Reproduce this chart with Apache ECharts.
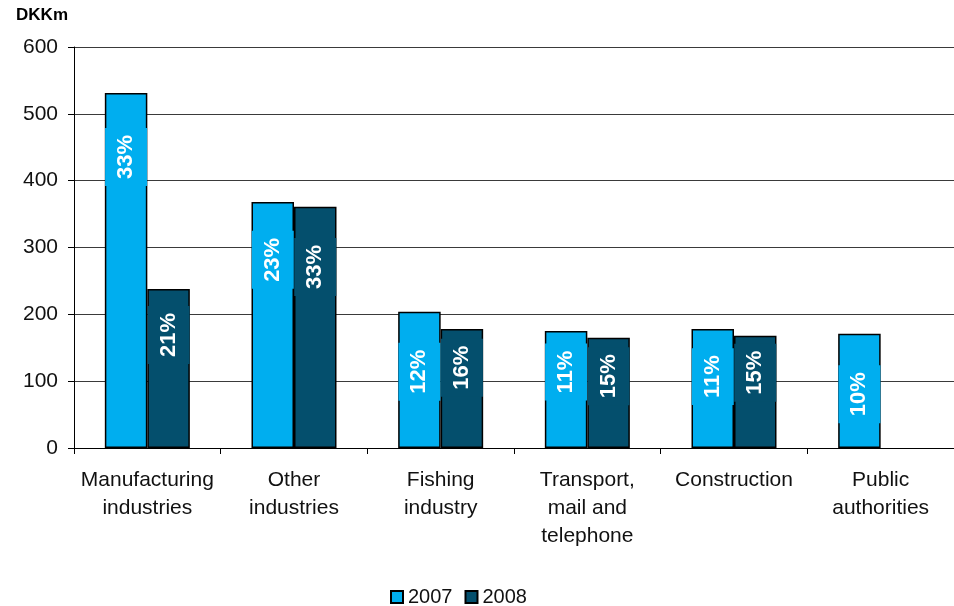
<!DOCTYPE html>
<html>
<head>
<meta charset="utf-8">
<script src="https://cdn.jsdelivr.net/npm/echarts@6/dist/echarts.min.js"></script>
<style>
  html, body { margin: 0; padding: 0; background: #fff; }
  #chart { width: 954px; height: 606px; }
</style>
</head>
<body>
<div id="chart"></div>
<script>
// Sector categories (x axis)
const categories = [
  'Manufacturing\nindustries',
  'Other\nindustries',
  'Fishing\nindustry',
  'Transport,\nmail and\ntelephone',
  'Construction',
  'Public\nauthorities'
];

// Amounts in DKKm
const values2007 = [531, 368, 204, 175, 178, 171];
const values2008 = [238, 361, 178, 165, 168, null];

// Share of each year's total, printed on the bars
const share2007 = ['33%', '23%', '12%', '11%', '11%', '10%'];
const share2008 = ['21%', '33%', '16%', '15%', '15%', null];

// Y axis tick labels
const yTicks = [0, 100, 200, 300, 400, 500, 600];

// Where the share label sits inside each bar (fraction from bar top)
const labelSpot2007 = [0.18, 0.235, 0.44, 0.35, 0.40, 0.53];
const labelSpot2008 = [0.29, 0.25, 0.325, 0.35, 0.33, 0.5];

const COLOR_2007 = '#00AEEF';
const COLOR_2008 = '#044F6D';
const FONT = 'Liberation Sans, Arial, sans-serif';

function buildData(values, shares, spots, color) {
  return values.map((v, i) => {
    if (v == null) return null;
    return {
      value: v,
      label: {
        show: shares[i] != null,
        formatter: shares[i] || '',
        position: ['50%', (spots[i] * 100).toFixed(1) + '%'],
        rotate: 90,
        align: 'center',
        verticalAlign: 'middle',
        color: '#fff',
        fontFamily: FONT,
        fontWeight: 'bold',
        fontSize: 22,
        lineHeight: 22,
        backgroundColor: color,
        padding: [10, 7]
      }
    };
  });
}

const chart = echarts.init(document.getElementById('chart'), null, { renderer: 'canvas' });

chart.setOption({
  animation: false,
  backgroundColor: '#fff',
  grid: { left: 74, right: -3, top: 47, bottom: 158, containLabel: false },
  legend: {
    data: ['2007', '2008'],
    left: 385,
    top: 582,
    icon: 'rect',
    itemWidth: 12,
    itemHeight: 12,
    itemGap: 12,
    textStyle: { fontFamily: FONT, fontSize: 20, color: '#111' }
  },
  xAxis: {
    type: 'category',
    data: categories,
    axisLine: { lineStyle: { color: '#000', width: 1 } },
    axisTick: { show: true, length: 6, lineStyle: { color: '#000' } },
    axisLabel: {
      fontFamily: FONT,
      fontSize: 21,
      lineHeight: 28,
      color: '#111',
      margin: 18,
      interval: 0
    }
  },
  yAxis: {
    type: 'value',
    min: yTicks[0],
    max: yTicks[yTicks.length - 1],
    interval: 100,
    name: 'DKKm',
    nameLocation: 'end',
    nameGap: 23,
    nameTextStyle: {
      fontFamily: FONT,
      fontWeight: 'bold',
      fontSize: 17,
      color: '#000',
      align: 'right',
      padding: [0, 6, 0, 0]
    },
    axisLine: { show: true, lineStyle: { color: '#000', width: 1 } },
    axisTick: { show: true, length: 6, lineStyle: { color: '#000' } },
    axisLabel: {
      fontFamily: FONT,
      fontSize: 21,
      color: '#111',
      margin: 16
    },
    splitLine: { lineStyle: { color: '#3a3a3a', width: 1 } }
  },
  series: [
    {
      name: '2007',
      type: 'bar',
      barWidth: 42.5,
      barGap: '0%',
      itemStyle: { color: COLOR_2007, borderColor: '#000', borderWidth: 1.5 },
      data: buildData(values2007, share2007, labelSpot2007, COLOR_2007)
    },
    {
      name: '2008',
      type: 'bar',
      barWidth: 42.5,
      barGap: '0%',
      itemStyle: { color: COLOR_2008, borderColor: '#000', borderWidth: 1.5 },
      data: buildData(values2008, share2008, labelSpot2008, COLOR_2008)
    }
  ]
});
</script>
</body>
</html>
